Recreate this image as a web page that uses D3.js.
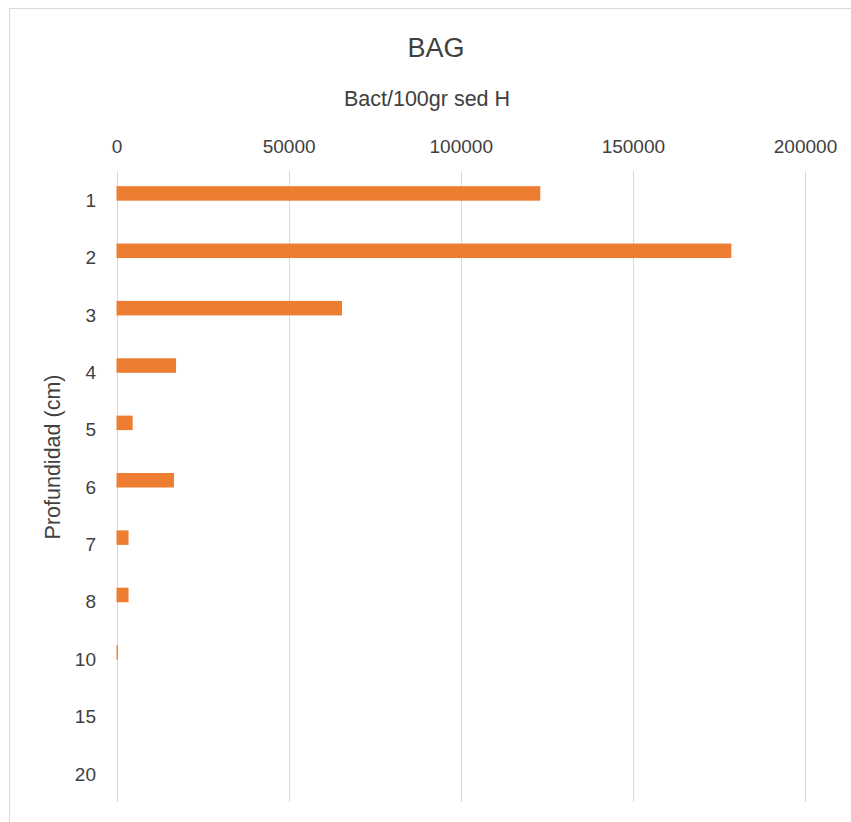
<!DOCTYPE html>
<html>
<head>
<meta charset="utf-8">
<script src="https://cdn.jsdelivr.net/npm/d3@7"></script>
<style>
  html, body { margin: 0; padding: 0; background: #fff; }
  svg { display: block; }
  text { font-family: "Liberation Sans", Arial, sans-serif; fill: #404040; }
</style>
</head>
<body>
<svg id="chart" width="851" height="822"></svg>
<script>
const chartTitle = "BAG";
const xAxisTitle = "Bact/100gr sed H";
const yAxisTitle = "Profundidad (cm)";
const categories = ["1", "2", "3", "4", "5", "6", "7", "8", "10", "15", "20"];
const values = [123100, 178600, 65500, 17300, 4700, 16700, 3500, 3500, 400, 0, 0];
const xTicks = [0, 50000, 100000, 150000, 200000];

const svg = d3.select("#chart");

// chart area border
svg.append("rect")
  .attr("x", 9.5).attr("y", 8.5)
  .attr("width", 851).attr("height", 830)
  .attr("fill", "#fff").attr("stroke", "#d9d9d9").attr("stroke-width", 1);

const plot = { left: 116.5, right: 805, top: 171, bottom: 802 };

const x = d3.scaleLinear().domain([0, 200000]).range([plot.left, plot.right]);
const y = d3.scaleBand().domain(categories).range([plot.top, plot.bottom]).padding(0);

// gridlines
svg.append("g").selectAll("line")
  .data(xTicks)
  .join("line")
  .attr("x1", d => Math.round(x(d)) + 0.5)
  .attr("x2", d => Math.round(x(d)) + 0.5)
  .attr("y1", plot.top)
  .attr("y2", plot.bottom)
  .attr("stroke", "#d9d9d9")
  .attr("stroke-width", 1);

// x axis (top) labels
const xAxis = d3.axisTop(x).tickValues(xTicks).tickFormat(d3.format("d")).tickSize(0).tickPadding(0);
const gx = svg.append("g").attr("transform", `translate(0,152.5)`).call(xAxis);
gx.select(".domain").remove();
gx.selectAll("text").attr("font-size", 19).attr("font-family", "Liberation Sans, Arial, sans-serif").attr("fill", "#404040").attr("dy", 0);

// y axis labels
const yAxis = d3.axisLeft(y).tickSize(0).tickPadding(0);
const gy = svg.append("g").attr("transform", `translate(96,0)`).call(yAxis);
gy.select(".domain").remove();
gy.selectAll("text").attr("font-size", 19).attr("font-family", "Liberation Sans, Arial, sans-serif").attr("fill", "#404040").attr("dy", "0.38em");

// bars
const barOffset = 13.5, barH = 14.5;
svg.append("g").selectAll("rect")
  .data(categories.map((c, i) => ({ c, v: values[i] })))
  .join("rect")
  .attr("x", x(0))
  .attr("y", d => y(d.c) + y.bandwidth() / 2 - barOffset)
  .attr("width", d => x(d.v) - x(0))
  .attr("height", barH)
  .attr("fill", "#ed7d31");

// titles
svg.append("text")
  .attr("x", 436).attr("y", 57)
  .attr("text-anchor", "middle")
  .attr("font-size", 27)
  .text(chartTitle);

svg.append("text")
  .attr("x", 427).attr("y", 105.5)
  .attr("text-anchor", "middle")
  .attr("font-size", 21.5)
  .text(xAxisTitle);

svg.append("text")
  .attr("transform", "translate(59.5,457) rotate(-90)")
  .attr("text-anchor", "middle")
  .attr("font-size", 21.5)
  .text(yAxisTitle);
</script>
</body>
</html>
